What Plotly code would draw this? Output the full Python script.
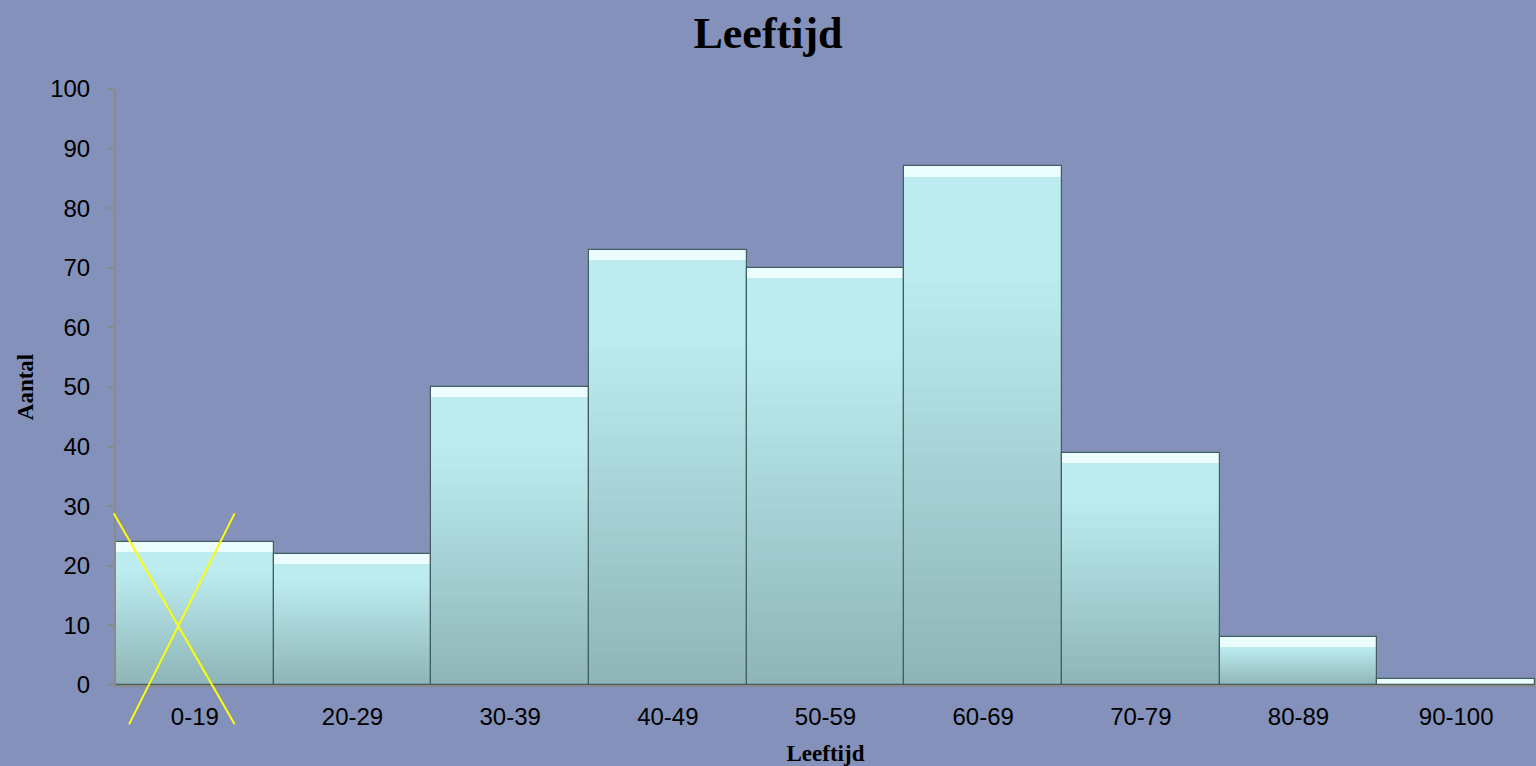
import plotly.graph_objects as go

# ---- data ----
categories = ["0-19", "20-29", "30-39", "40-49", "50-59", "60-69", "70-79", "80-89", "90-100"]
counts = [24, 22, 50, 73, 70, 87, 39, 8, 1]
y_ticks = [0, 10, 20, 30, 40, 50, 60, 70, 80, 90, 100]

title_text = "Leeftijd"
x_title = "Leeftijd"
y_title = "Aantal"

# yellow cross drawn over the first bar (axis-domain coordinates)
cross_line1_x = [-0.0016, 0.0836]
cross_line1_y = [0.288, -0.066]
cross_line2_x = [0.0836, 0.0092]
cross_line2_y = [0.288, -0.066]

# ---- style ----
BG = "#8491BB"
TOP = (0xBC, 0xEC, 0xF0)
BOTTOM = (0x8E, 0xB4, 0xB6)
N_BANDS = 40
HILITE = 1.7  # height (in axis units) of the bevel highlight

def mix(a, b, t):
    return "rgb(%d,%d,%d)" % tuple(round(a[i] + (b[i] - a[i]) * t) for i in range(3))

fig = go.Figure()

# gradient bands (bottom dark -> top light), per bar
for k in range(N_BANDS):
    t = (k + 0.5) / N_BANDS
    t2 = min(1.0, t * 1.25)
    fig.add_trace(go.Bar(
        x=categories,
        y=[v / N_BANDS * 1.02 for v in counts],
        base=[v * k / N_BANDS for v in counts],
        marker=dict(color=mix(BOTTOM, TOP, t2), line=dict(width=0)),
        hoverinfo="skip",
        showlegend=False,
    ))

# bevel highlight at top of each bar
fig.add_trace(go.Bar(
    x=categories,
    y=[min(HILITE, v) for v in counts],
    base=[max(v - HILITE, 0) for v in counts],
    marker=dict(color="rgb(236,253,254)", line=dict(width=0)),
    hoverinfo="skip",
    showlegend=False,
))

# outline
fig.add_trace(go.Bar(
    x=categories,
    y=counts,
    marker=dict(color="rgba(0,0,0,0)", line=dict(color="#3F5F60", width=1.2)),
    hovertemplate="%{x}: %{y}<extra></extra>",
    showlegend=False,
))

for xs, ys in [(cross_line1_x, cross_line1_y), (cross_line2_x, cross_line2_y)]:
    fig.add_shape(type="line", xref="x domain", yref="y domain",
                  x0=xs[0], y0=ys[0], x1=xs[1], y1=ys[1],
                  line=dict(color="#FFFF00", width=2))

fig.update_layout(
    width=1536, height=766,
    margin=dict(l=116, r=1, t=89, b=81),
    paper_bgcolor=BG, plot_bgcolor=BG,
    barmode="overlay", bargap=0,
    title=dict(text=title_text, x=0.5, xanchor="center", y=1 - 33 / 766, yanchor="middle",
               font=dict(family="Liberation Serif", size=44, color="black", weight="bold")),
    showlegend=False,
)

fig.update_xaxes(
    range=[-0.5, len(categories) - 0.5],
    showline=True, linecolor="#8A8A8A", linewidth=2, layer="above traces",
    showgrid=False, zeroline=False, ticks="",
    tickfont=dict(family="Liberation Sans", size=24, color="black"),
    ticklabelstandoff=9,
    title=dict(text=x_title, standoff=16,
               font=dict(family="Liberation Serif", size=23, color="black", weight="bold")),
)
fig.update_yaxes(
    range=[0, 100], tickvals=y_ticks,
    showline=True, linecolor="#8A8A8A", linewidth=2,
    showgrid=False, zeroline=False,
    ticks="outside", ticklen=7, tickcolor="#8A8A8A", tickwidth=2,
    tickfont=dict(family="Liberation Sans", size=24, color="black"),
    ticklabelstandoff=12,
    title=dict(text=y_title, standoff=10,
               font=dict(family="Liberation Serif", size=23, color="black", weight="bold")),
)

fig.write_html("out.html", config={"displayModeBar": False},
               post_script="document.body.style.margin='0';document.body.style.background='%s';" % BG)
